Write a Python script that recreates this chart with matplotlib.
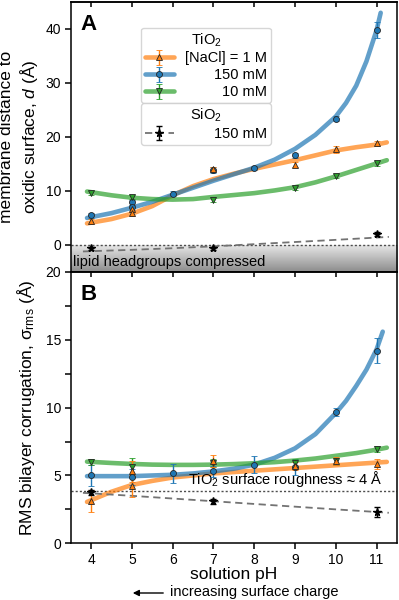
import matplotlib
matplotlib.use("Agg")
import matplotlib.pyplot as plt
import numpy as np

plt.rcParams['font.family'] = ['Liberation Sans', 'DejaVu Sans']
plt.rcParams['mathtext.fontset'] = 'custom'
plt.rcParams['mathtext.rm'] = 'Liberation Sans'
plt.rcParams['mathtext.it'] = 'Liberation Sans:italic'
plt.rcParams['mathtext.bf'] = 'Liberation Sans:bold'

# ---- panel A: membrane distance d (Angstrom) ----
ph_1M_A = [4, 5, 5, 7, 9, 10, 11]
d_1M = [4.4, 6.6, 5.85, 14.0, 14.9, 17.7, 18.8]
d_1M_err = [0.5, 0.5, 0.5, 0.5, 0.5, 0.6, 0.5]

ph_150_A = [4, 5, 5, 6, 7, 8, 9, 10, 11]
d_150 = [5.5, 7.9, 6.95, 9.5, 13.9, 14.3, 16.6, 23.4, 39.8]
d_150_err = [0.5, 0.5, 0.5, 0.5, 0.5, 0.4, 0.5, 0.5, 1.5]

ph_10_A = [4, 5, 7, 9, 10, 11]
d_10 = [9.65, 8.9, 8.4, 10.5, 12.8, 15.1]
d_10_err = [0.4, 0.4, 0.4, 0.4, 0.4, 0.4]

ph_si_A = [4, 7, 11]
d_si = [-0.6, -0.6, 2.0]
d_si_err = [0.3, 0.3, 0.4]

# fit curves
fit_ph = [3.9, 4.5, 5, 5.5, 6, 6.5, 7, 7.5, 8, 8.5, 9, 9.5, 10, 10.5, 11, 11.25]
fit_d_1M = [4.0, 4.8, 5.8, 7.2, 9.2, 10.9, 12.2, 13.2, 14.1, 14.9, 15.7, 16.6, 17.5, 18.1, 18.6, 19.0]
fit_d_10 = [9.9, 9.2, 8.75, 8.5, 8.4, 8.5, 8.9, 9.25, 9.6, 10.1, 10.7, 11.6, 12.7, 13.9, 15.1, 15.7]
fit_ph_150A = [3.9, 4.5, 5, 5.5, 6, 6.5, 7, 7.5, 8, 8.5, 9, 9.5, 10, 10.25, 10.5, 10.75, 11, 11.1]
fit_d_150 = [5.0, 5.9, 6.9, 8.0, 9.3, 10.6, 11.9, 13.1, 14.3, 15.8, 17.8, 20.4, 23.8, 26.3, 29.5, 34.0, 39.8, 43.0]
fit_ph_si = [3.8, 5, 6, 7, 8, 9, 10, 11.3]
fit_d_si = [-1.2, -0.9, -0.6, -0.25, 0.15, 0.55, 0.95, 1.5]

# ---- panel B: RMS corrugation ----
ph_1M_B = [4, 5, 5, 7, 9, 10, 11]
s_1M = [3.1, 4.2, 5.3, 6.05, 5.7, 6.05, 5.85]
s_1M_err = [0.8, 0.8, 0.8, 0.45, 0.3, 0.3, 0.35]

ph_150_B = [4, 5, 6, 7, 8, 9, 10, 11]
s_150 = [5.0, 4.9, 5.15, 5.3, 5.8, 5.6, 9.7, 14.2]
s_150_err = [0.75, 0.6, 0.72, 0.4, 0.6, 0.6, 0.3, 0.9]

ph_10_B = [4, 5, 7, 9, 10, 11]
s_10 = [6.0, 5.6, 5.9, 5.95, 6.05, 6.95]
s_10_err = [0.2, 0.7, 0.3, 0.3, 0.25, 0.25]

ph_si_B = [4, 7, 11]
s_si = [3.75, 3.1, 2.3]
s_si_err = [0.2, 0.2, 0.35]

fit_s_1M = [3.05, 3.8, 4.3, 4.6, 4.85, 5.0, 5.15, 5.25, 5.35, 5.45, 5.55, 5.65, 5.75, 5.85, 5.95, 6.0]
fit_s_10 = [6.02, 5.92, 5.85, 5.8, 5.78, 5.78, 5.8, 5.84, 5.9, 5.98, 6.1, 6.25, 6.45, 6.65, 6.9, 7.05]
fit_ph_150B = [3.9, 4.5, 5, 5.5, 6, 6.5, 7, 7.5, 8, 8.5, 9, 9.5, 10, 10.25, 10.5, 10.75, 11, 11.15]
fit_s_150 = [4.95, 4.95, 4.95, 5.0, 5.05, 5.15, 5.3, 5.5, 5.8, 6.3, 7.0, 8.05, 9.6, 10.5, 11.6, 12.8, 14.3, 15.6]
fit_s_si = [3.72, 3.5, 3.3, 3.1, 2.9, 2.7, 2.5, 2.25]

roughness = 3.85
ph_ticks = [4, 5, 6, 7, 8, 9, 10, 11]

c_1M = '#ff7f0e'
c_150 = '#1f77b4'
c_10 = '#2ca02c'

fig = plt.figure(figsize=(3.99, 6.0), dpi=100)
axA = fig.add_axes([0.1772, 0.5467, 0.8178, 0.4500])
axB = fig.add_axes([0.1772, 0.0945, 0.8178, 0.4522])


def fit(ax, x, y, c):
    return ax.plot(x, y, color=c, lw=3.3, alpha=0.7, solid_capstyle='round',
                   solid_joinstyle='round', zorder=2)[0]


def pts(ax, x, y, e, c, m, ms=4.3):
    return ax.errorbar(x, y, yerr=e, fmt=m, color=c, ms=ms, mec='0.15', mew=0.6,
                       ecolor=c, elinewidth=1.0, capsize=2.5, capthick=1.0, zorder=4)


# ---------- A ----------
grad = np.linspace(0.9, 0.55, 50).reshape(-1, 1)
axA.imshow(grad, extent=(3.5, 11.5, -5, 0), aspect='auto', cmap='gray',
           vmin=0, vmax=1, zorder=0)
axA.axhline(0, color='0.3', lw=1.0, ls=(0, (1.5, 1.5)), zorder=1)
axA.text(3.55, -3.1, 'lipid headgroups compressed', fontsize=10.5, va='center', ha='left')

lA1 = fit(axA, fit_ph, fit_d_1M, c_1M)
lA150 = fit(axA, fit_ph_150A, fit_d_150, c_150)
lA10 = fit(axA, fit_ph, fit_d_10, c_10)
lAsi, = axA.plot(fit_ph_si, fit_d_si, color='0.45', lw=1.3, dashes=(4, 2.5), zorder=2)

eA150 = pts(axA, ph_150_A, d_150, d_150_err, c_150, 'o')
eA10 = pts(axA, ph_10_A, d_10, d_10_err, c_10, 'v')
eA1 = pts(axA, ph_1M_A, d_1M, d_1M_err, c_1M, '^')
eAsi = axA.errorbar(ph_si_A, d_si, yerr=d_si_err, fmt='*', color='k', ms=5.5,
                    elinewidth=1.0, capsize=2.5, capthick=1.0, zorder=4)

axA.set_xlim(3.5, 11.5)
axA.set_ylim(-5, 45)
axA.set_yticks([0, 10, 20, 30, 40])
axA.set_xticks(ph_ticks)
axA.tick_params(axis='x', bottom=False, labelbottom=False)
axA.set_ylabel('membrane distance to\noxidic surface, $d$ (Å)', fontsize=12.5)
axA.yaxis.set_label_coords(-0.095, 0.5)
axA.text(0.03, 0.955, 'A', transform=axA.transAxes, fontsize=16, fontweight='bold',
         va='top', ha='left')

leg_kw = dict(mode='expand', borderaxespad=0, fontsize=10.5, title_fontsize=10.5,
              labelspacing=0.2, handlelength=2.0, handletextpad=0.8, borderpad=0.25)
legA = axA.legend([(lA1, eA1), (lA150, eA150), (lA10, eA10)],
                  ['[NaCl] = 1 M', '150 mM', '10 mM'], title='TiO$_2$',
                  loc='lower left', bbox_to_anchor=(0.215, 0.626, 0.40, 0.1), **leg_kw)
axA.add_artist(legA)
legB = axA.legend([(lAsi, eAsi)], ['150 mM'], title='SiO$_2$',
                  loc='upper left', bbox_to_anchor=(0.215, 0.626 - 0.1, 0.40, 0.1), **leg_kw)

# ---------- B ----------
axB.axhline(roughness, color='0.3', lw=1.0, ls=(0, (1.5, 1.5)), zorder=1)
axB.text(11.13, roughness + 0.15, 'TiO$_2$ surface roughness ≈ 4 Å', fontsize=10.5,
         ha='right', va='bottom')

fit(axB, fit_ph, fit_s_1M, c_1M)
fit(axB, fit_ph_150B, fit_s_150, c_150)
fit(axB, fit_ph, fit_s_10, c_10)
axB.plot(fit_ph_si, fit_s_si, color='0.45', lw=1.3, dashes=(4, 2.5), zorder=2)

pts(axB, ph_150_B, s_150, s_150_err, c_150, 'o')
pts(axB, ph_10_B, s_10, s_10_err, c_10, 'v')
pts(axB, ph_1M_B, s_1M, s_1M_err, c_1M, '^')
axB.errorbar(ph_si_B, s_si, yerr=s_si_err, fmt='*', color='k', ms=5.5,
             elinewidth=1.0, capsize=2.5, capthick=1.0, zorder=4)

axB.set_xlim(3.5, 11.5)
axB.set_ylim(0, 20)
axB.set_xticks(ph_ticks)
axB.set_yticks([0, 5, 10, 15, 20])
axB.set_yticks([2.5, 7.5, 12.5, 17.5], minor=True)
axB.set_ylabel('RMS bilayer corrugation, σ$_\\mathrm{rms}$ (Å)', fontsize=12.5)
axB.yaxis.set_label_coords(-0.103, 0.5)
axB.set_xlabel('solution pH', fontsize=12.5, labelpad=0)
axB.text(0.03, 0.955, 'B', transform=axB.transAxes, fontsize=16, fontweight='bold',
         va='top', ha='left')

for ax in (axA, axB):
    for s in ax.spines.values():
        s.set_linewidth(1.1)
    ax.tick_params(axis='both', which='major', labelsize=10, length=4.5, width=1.1,
                   direction='out', pad=2.5)
    ax.tick_params(axis='y', which='minor', length=4.5, width=1.1)
    top = ax.secondary_xaxis('top')
    top.set_xticks(ph_ticks)
    top.tick_params(axis='x', direction='in', length=3.5, width=1.1, labeltop=False)
    top.spines['top'].set_linewidth(1.1)

fig.text(170 / 399, 1 - 592 / 600, 'increasing surface charge', fontsize=10.5,
         ha='left', va='center')
fig.add_artist(matplotlib.patches.FancyArrowPatch(
    (166 / 399, 1 - 593 / 600), (130 / 399, 1 - 593 / 600), transform=fig.transFigure,
    arrowstyle='-|>', mutation_scale=9, color='k', lw=1.0))

# right-align legend texts
fig.canvas.draw()
texts = legA.get_texts() + legB.get_texts()
widths = [t.get_window_extent().width for t in texts]
wmax = max(widths)
for t, w in zip(texts, widths):
    t.set_position((wmax - w, 0))

fig.savefig('out.png', dpi=100)
